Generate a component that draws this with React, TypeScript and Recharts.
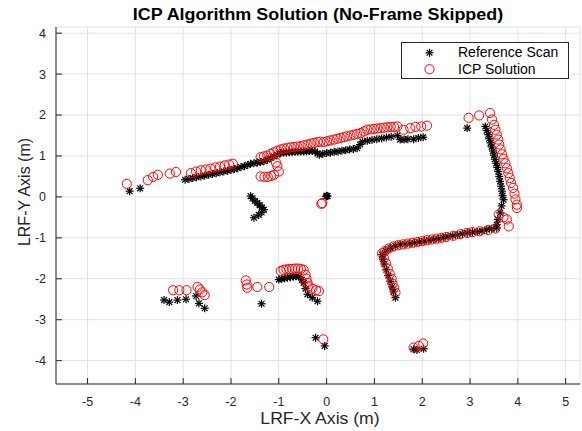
import React from 'react';
import { ScatterChart, Scatter, XAxis, YAxis, CartesianGrid } from 'recharts';

type P = [number, number];

const xTicks = [-5, -4, -3, -2, -1, 0, 1, 2, 3, 4, 5];
const yTicks = [-4, -3, -2, -1, 0, 1, 2, 3, 4];
const xDomain: [number, number] = [-5.66, 5.3];
const yDomain: [number, number] = [-4.57, 4.15];

// Reference Scan (black *)
const refLeft: P[] = [[-4.12, 0.14], [-3.9, 0.21]];
const refTopWall: P[] = [
  [-2.96, 0.42], [-2.88, 0.44], [-2.8, 0.46], [-2.72, 0.48], [-2.63, 0.5], [-2.55, 0.52], [-2.47, 0.54],
  [-2.39, 0.56], [-2.31, 0.58], [-2.23, 0.6], [-2.15, 0.62], [-2.07, 0.64], [-2.0, 0.66], [-1.93, 0.68],
  [-1.86, 0.7], [-1.79, 0.73], [-1.72, 0.75], [-1.65, 0.78], [-1.59, 0.81], [-1.52, 0.82], [-1.45, 0.84],
  [-1.38, 0.85], [-1.31, 0.87], [-1.24, 0.91], [-1.17, 0.95], [-1.1, 0.99], [-1.03, 1.03], [-0.96, 1.07],
  [-0.9, 1.08], [-0.84, 1.08], [-0.78, 1.09], [-0.72, 1.09], [-0.66, 1.1], [-0.6, 1.1], [-0.54, 1.11],
  [-0.48, 1.11], [-0.42, 1.11], [-0.36, 1.12], [-0.3, 1.12], [-0.24, 1.11], [-0.19, 1.06], [-0.15, 1.03],
  [-0.08, 1.05], [0.0, 1.07], [0.08, 1.08], [0.16, 1.1], [0.24, 1.11], [0.32, 1.13], [0.4, 1.14],
  [0.48, 1.16], [0.56, 1.17], [0.64, 1.19], [0.7, 1.28], [0.75, 1.35], [0.85, 1.37], [0.95, 1.39],
  [1.05, 1.41], [1.15, 1.43], [1.25, 1.45], [1.35, 1.47], [1.48, 1.5], [1.54, 1.4], [1.62, 1.4],
  [1.7, 1.41], [1.82, 1.41], [1.92, 1.44], [2.02, 1.46],
];
const refChevron: P[] = [
  [-1.59, 0.02], [-1.55, -0.04], [-1.5, -0.1], [-1.45, -0.15], [-1.4, -0.2], [-1.35, -0.26],
  [-1.31, -0.31], [-1.36, -0.38], [-1.42, -0.44], [-1.52, -0.51],
];
const refOrigin: P[] = [[0.0, 0.03], [0.02, 0.02], [-0.01, 0.01]];
const refRightWall: P[] = [
  [2.94, 1.68], [3.32, 1.72], [3.35, 1.62], [3.38, 1.52], [3.4, 1.42], [3.43, 1.32], [3.45, 1.22],
  [3.48, 1.12], [3.5, 1.02], [3.52, 0.92], [3.55, 0.82], [3.57, 0.72], [3.59, 0.62], [3.61, 0.5],
  [3.63, 0.38], [3.65, 0.26], [3.67, 0.14], [3.68, 0.03], [3.7, -0.07], [3.66, -0.22], [3.63, -0.39],
  [3.58, -0.55], [3.56, -0.68],
];
const refLongWall: P[] = [
  [3.56, -0.76], [3.45, -0.78], [3.35, -0.8], [3.25, -0.83], [3.15, -0.85], [3.05, -0.86], [2.94, -0.88],
  [2.84, -0.9], [2.74, -0.93], [2.64, -0.95], [2.54, -0.97], [2.44, -0.99], [2.34, -1.02], [2.24, -1.04],
  [2.14, -1.06], [2.04, -1.08], [1.94, -1.1], [1.84, -1.12], [1.74, -1.14], [1.64, -1.15], [1.54, -1.16],
  [1.44, -1.2], [1.34, -1.25], [1.24, -1.32], [1.16, -1.41], [1.18, -1.52], [1.21, -1.64], [1.25, -1.78],
  [1.29, -1.92], [1.33, -2.06], [1.37, -2.2], [1.4, -2.32], [1.44, -2.46],
];
const refBottomLeft: P[] = [
  [-3.4, -2.52], [-3.29, -2.57], [-3.12, -2.52], [-2.94, -2.5], [-2.73, -2.42], [-2.67, -2.6], [-2.55, -2.72],
  [-1.36, -2.61],
];
const refMiddle: P[] = [
  [-1.0, -2.02], [-0.94, -2.0], [-0.88, -1.99], [-0.82, -1.97], [-0.76, -1.96], [-0.7, -1.95], [-0.64, -1.94],
  [-0.58, -1.95], [-0.52, -2.02], [-0.48, -2.1], [-0.44, -2.24], [-0.4, -2.38], [-0.3, -2.46], [-0.19, -2.55],
];
const refBottom: P[] = [[-0.23, -3.44], [-0.04, -3.64], [1.82, -3.72], [1.89, -3.74], [2.03, -3.71]];

// ICP Solution (red o)
const icpLeftWall: P[] = [
  [-4.18, 0.32], [-3.74, 0.41], [-3.63, 0.49], [-3.53, 0.54], [-3.28, 0.57], [-3.15, 0.61], [-2.84, 0.58],
  [-2.73, 0.62], [-2.63, 0.65], [-2.53, 0.67], [-2.43, 0.69], [-2.33, 0.72], [-2.23, 0.74], [-2.13, 0.77],
  [-2.04, 0.79], [-1.96, 0.81],
];
const icpTopWall: P[] = [
  [-1.38, 0.97], [-1.31, 0.99], [-1.24, 1.01], [-1.17, 1.05], [-1.1, 1.09], [-1.03, 1.13], [-0.96, 1.16],
  [-0.89, 1.18], [-0.82, 1.2], [-0.75, 1.21], [-0.68, 1.22], [-0.61, 1.23], [-0.54, 1.24], [-0.47, 1.26],
  [-0.4, 1.28], [-0.33, 1.3], [-0.26, 1.32], [-0.19, 1.34], [-0.13, 1.35], [-0.06, 1.34], [0.01, 1.36],
  [0.08, 1.38], [0.15, 1.4], [0.22, 1.42], [0.29, 1.44], [0.36, 1.46], [0.43, 1.48], [0.5, 1.5],
  [0.57, 1.52], [0.64, 1.54], [0.71, 1.56], [0.78, 1.6], [0.85, 1.64], [0.92, 1.65], [0.99, 1.66],
  [1.06, 1.67], [1.13, 1.68], [1.2, 1.69], [1.27, 1.7], [1.34, 1.71], [1.41, 1.71], [1.48, 1.72],
  [1.61, 1.64], [1.75, 1.68], [1.86, 1.71], [1.98, 1.72], [2.1, 1.74],
];
const icpLoop: P[] = [
  [-1.38, 0.5], [-1.3, 0.49], [-1.23, 0.49], [-1.16, 0.51], [-1.1, 0.54], [-1.0, 0.62], [-1.03, 0.75],
  [-1.06, 0.84], [-0.09, -0.15], [-0.11, -0.17],
];
const icpRightWall: P[] = [
  [2.97, 1.93], [3.19, 1.99], [3.42, 2.05], [3.46, 1.89], [3.5, 1.76], [3.53, 1.64], [3.56, 1.52],
  [3.59, 1.4], [3.61, 1.28], [3.64, 1.16], [3.67, 1.04], [3.7, 0.93], [3.74, 0.82], [3.77, 0.7],
  [3.8, 0.58], [3.83, 0.46], [3.86, 0.34], [3.9, 0.22], [3.93, 0.08], [3.95, -0.06], [3.98, -0.19],
  [3.98, -0.27], [3.6, -0.43], [3.7, -0.5], [3.77, -0.55], [3.81, -0.72],
];
const icpLongWall: P[] = [
  [3.53, -0.77], [3.38, -0.81], [3.2, -0.84], [3.05, -0.86], [2.94, -0.88], [2.8, -0.91], [2.65, -0.95],
  [2.5, -0.98], [2.4, -1.0], [2.3, -1.02], [2.2, -1.04], [2.1, -1.06], [2.0, -1.08], [1.9, -1.1],
  [1.8, -1.12], [1.7, -1.14], [1.6, -1.16], [1.5, -1.18], [1.4, -1.21], [1.3, -1.26], [1.22, -1.32],
  [1.16, -1.38], [1.2, -1.5], [1.24, -1.62], [1.28, -1.75], [1.32, -1.88], [1.36, -2.0], [1.38, -2.12],
  [1.41, -2.22], [1.44, -2.34],
];
const icpBottomLeft: P[] = [
  [-3.21, -2.28], [-3.08, -2.28], [-2.93, -2.28], [-2.7, -2.2], [-2.65, -2.26], [-2.6, -2.33], [-2.55, -2.4],
  [-1.69, -2.04], [-1.67, -2.14], [-1.66, -2.22], [-1.45, -2.2], [-1.2, -2.2],
];
const icpMiddle: P[] = [
  [-0.96, -1.81], [-0.9, -1.78], [-0.84, -1.77], [-0.78, -1.76], [-0.72, -1.76], [-0.66, -1.75],
  [-0.6, -1.75], [-0.54, -1.76], [-0.48, -1.78], [-0.44, -1.9], [-0.42, -2.0], [-0.4, -2.1],
  [-0.38, -2.18], [-0.3, -2.24], [-0.22, -2.28], [-0.16, -2.3],
];
const icpBottom: P[] = [[-0.07, -3.48], [1.82, -3.68], [1.93, -3.64], [2.02, -3.58]];

const toRows = (pts: P[]) => pts.map(([x, y]) => ({ x, y }));

const refRows = toRows([
  ...refLeft, ...refTopWall, ...refChevron, ...refOrigin, ...refRightWall,
  ...refLongWall, ...refBottomLeft, ...refMiddle, ...refBottom,
]);
const icpRows = toRows([
  ...icpLeftWall, ...icpTopWall, ...icpLoop, ...icpRightWall,
  ...icpLongWall, ...icpBottomLeft, ...icpMiddle, ...icpBottom,
]);

const AXIS = '#262626';
const FONT = '"Liberation Sans", Arial, Helvetica, sans-serif';

function StarMark({ cx, cy }: any) {
  if (cx == null || cy == null) return null;
  const a = 4;
  const d = 2.9;
  return (
    <g stroke="#000" strokeWidth={1.2}>
      <line x1={cx - a} y1={cy} x2={cx + a} y2={cy} />
      <line x1={cx} y1={cy - a} x2={cx} y2={cy + a} />
      <line x1={cx - d} y1={cy - d} x2={cx + d} y2={cy + d} />
      <line x1={cx - d} y1={cy + d} x2={cx + d} y2={cy - d} />
    </g>
  );
}

function RingMark({ cx, cy }: any) {
  if (cx == null || cy == null) return null;
  return <circle cx={cx} cy={cy} r={4.6} fill="none" stroke="#ff0000" strokeWidth={1} />;
}

const blank = () => '';

export default function App() {
  return (
    <div style={{ position: 'absolute', left: 0, top: 0, width: 582, height: 431, background: '#fff', fontFamily: FONT }}>
      <ScatterChart width={582} height={431} margin={{ top: 27, right: 2, bottom: 0, left: 0 }}>
        <CartesianGrid stroke="#e2e2e2" strokeWidth={1} />
        <XAxis
          type="number" dataKey="x" domain={xDomain} ticks={xTicks} allowDataOverflow interval={0}
          height={47} tickSize={-6} tickMargin={19}
          axisLine={{ stroke: AXIS }} tickLine={{ stroke: AXIS }}
          tick={{ fill: AXIS, fontSize: 12.5 }}
        />
        <XAxis
          xAxisId="top" orientation="top" type="number" domain={xDomain} ticks={xTicks} allowDataOverflow
          interval={0} height={0} tickSize={-6} tickFormatter={blank}
          axisLine={{ stroke: AXIS }} tickLine={{ stroke: AXIS }}
        />
        <YAxis
          type="number" dataKey="y" domain={yDomain} ticks={yTicks} allowDataOverflow interval={0}
          width={56} tickSize={-6} tickMargin={16}
          axisLine={{ stroke: AXIS }} tickLine={{ stroke: AXIS }}
          tick={{ fill: AXIS, fontSize: 12.5 }}
        />
        <YAxis
          yAxisId="right" orientation="right" type="number" domain={yDomain} ticks={yTicks} allowDataOverflow
          interval={0} width={0} tickSize={-6} tickFormatter={blank}
          axisLine={{ stroke: AXIS }} tickLine={{ stroke: AXIS }}
        />
        <Scatter name="Reference Scan" data={refRows} shape={<StarMark />} isAnimationActive={false} />
        <Scatter name="ICP Solution" data={icpRows} shape={<RingMark />} isAnimationActive={false} />
      </ScatterChart>

      <div style={{
        position: 'absolute', left: 54, top: 7, width: 528, textAlign: 'center',
        fontSize: 16, lineHeight: '16px', fontWeight: 'bold', color: '#000',
        transform: 'scaleX(1.12)', whiteSpace: 'nowrap',
      }}>
        ICP Algorithm Solution (No-Frame Skipped)
      </div>

      <div style={{
        position: 'absolute', left: 60, top: 411, width: 520, textAlign: 'center',
        fontSize: 16, lineHeight: '16px', color: AXIS, transform: 'scaleX(1.1)', whiteSpace: 'nowrap',
      }}>
        LRF-X Axis (m)
      </div>

      <div style={{
        position: 'absolute', left: -55.4, top: 184, width: 160, height: 16, textAlign: 'center',
        fontSize: 16, lineHeight: '16px', color: AXIS, transform: 'rotate(-90deg)', whiteSpace: 'nowrap',
      }}>
        LRF-Y Axis (m)
      </div>

      <div style={{
        position: 'absolute', left: 401, top: 42, width: 168, height: 37, boxSizing: 'border-box',
        border: `1px solid ${AXIS}`, background: '#fff', fontSize: 14, color: '#000',
      }}>
        <svg width={20} height={35} style={{ position: 'absolute', left: 17, top: 0 }}>
          <StarMark cx={10.5} cy={9.8} />
          <RingMark cx={10.5} cy={26.2} />
        </svg>
        <div style={{ position: 'absolute', left: 56, top: 1, lineHeight: '16px', whiteSpace: 'nowrap' }}>Reference Scan</div>
        <div style={{ position: 'absolute', left: 56, top: 17.5, lineHeight: '16px', whiteSpace: 'nowrap' }}>ICP Solution</div>
      </div>
    </div>
  );
}
